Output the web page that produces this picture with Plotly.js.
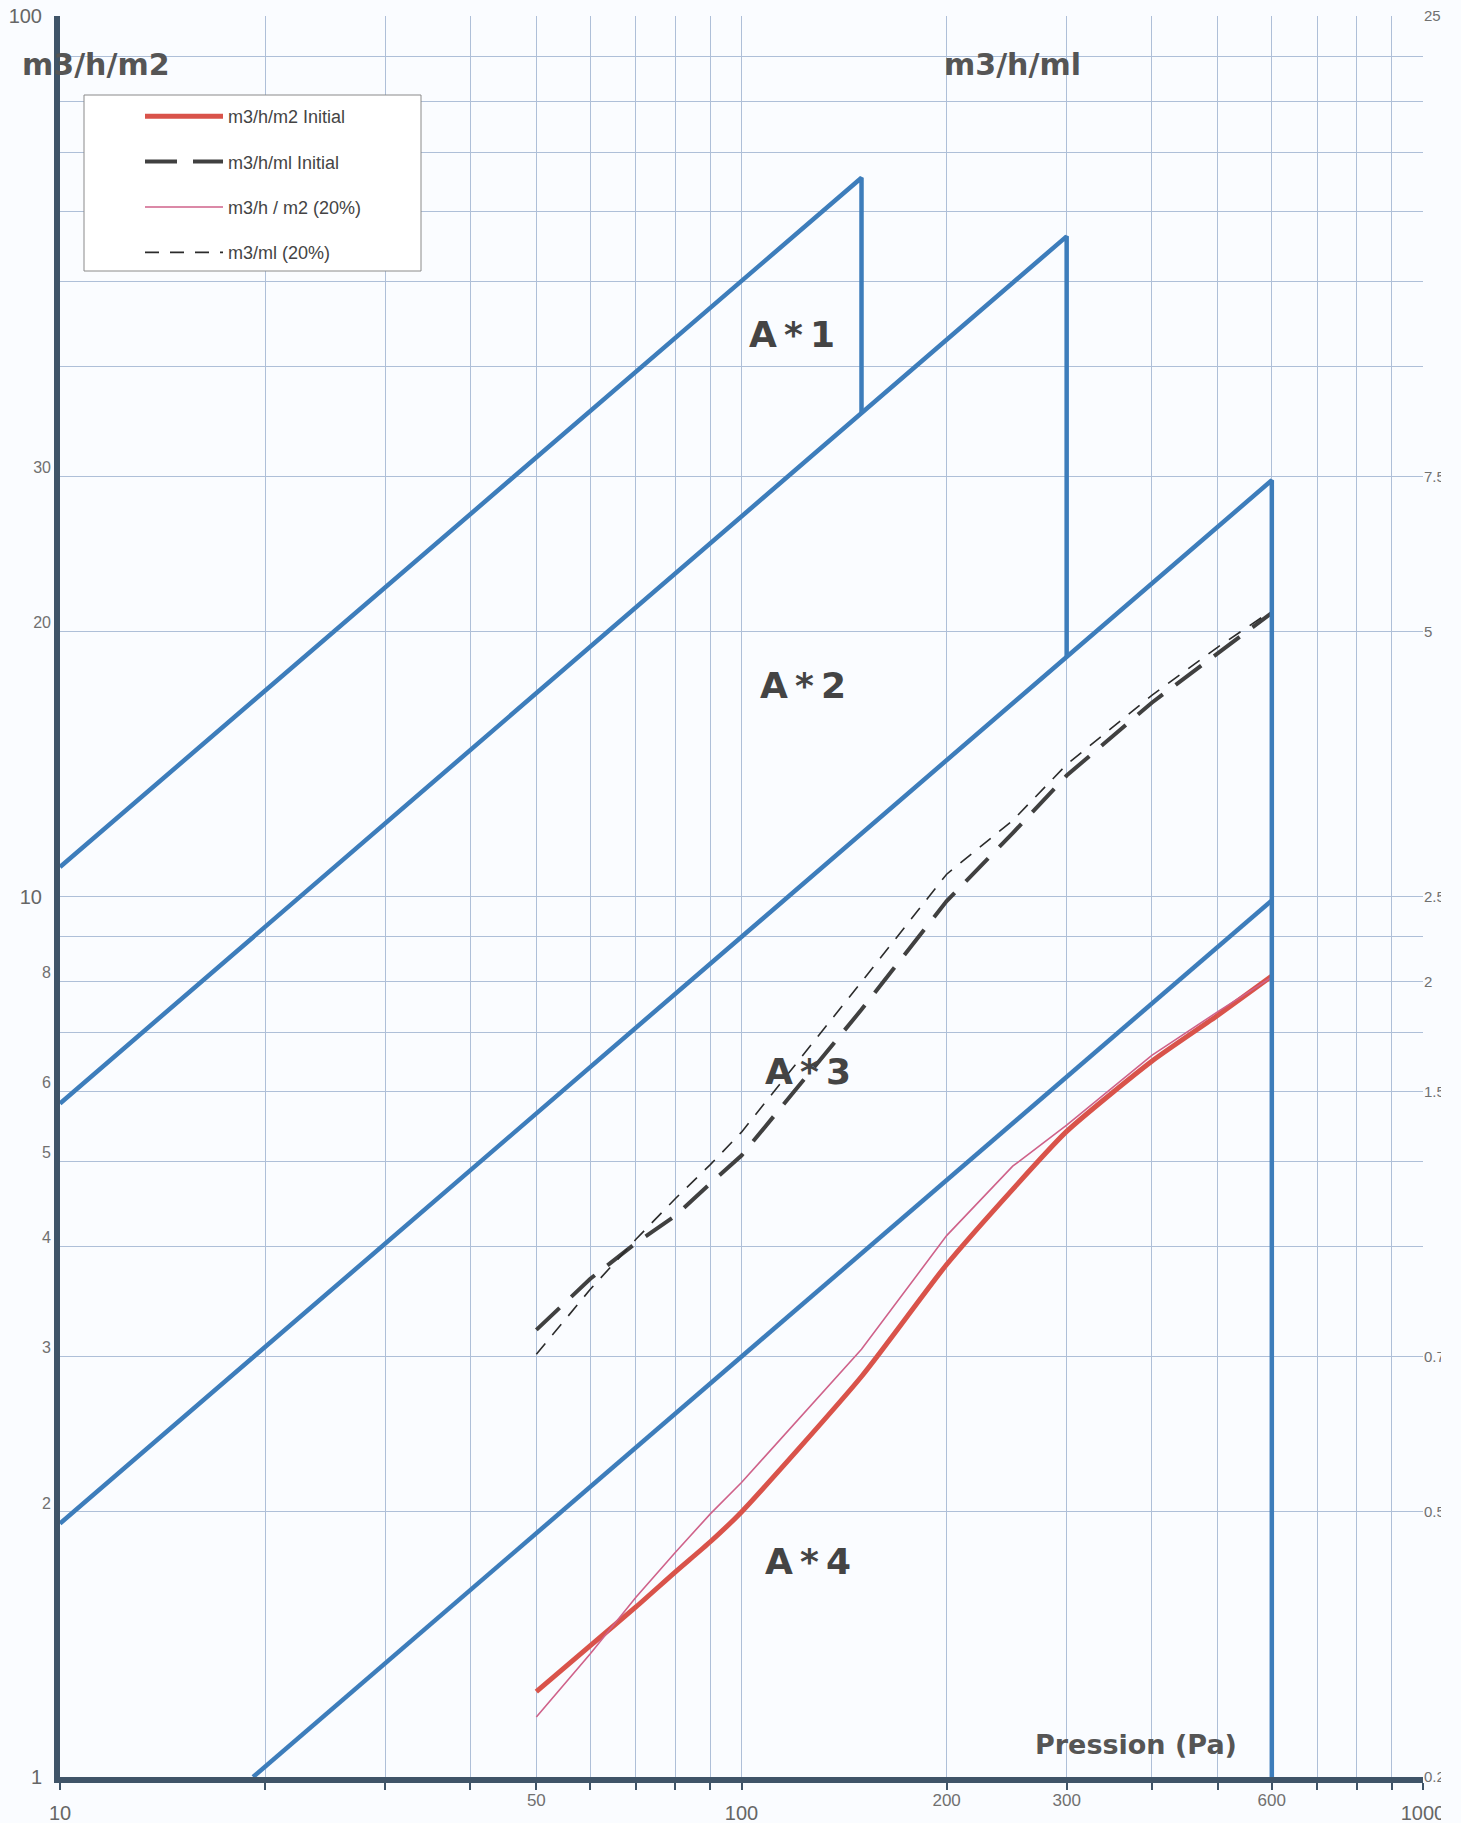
<!DOCTYPE html>
<html><head><meta charset="utf-8">
<script src="https://cdn.plot.ly/plotly-3.0.1.min.js"></script>
<style>html,body{margin:0;padding:0;background:#fafcff;} #chart{width:1461px;height:1823px;}</style>
</head><body><div id="chart"></div>
<script>
// ---- Data ----
// Pressure (Pa)
const pressure = [50, 60, 70, 80, 90, 100, 150, 200, 250, 300, 400, 500, 600];
// m3/h/m2 (left axis)
const m2Initial = [1.25, 1.41, 1.56, 1.71, 1.85, 2.00, 2.85, 3.82, 4.65, 5.41, 6.50, 7.33, 8.12];
const m2Pct20   = [1.17, 1.38, 1.60, 1.80, 1.99, 2.16, 3.06, 4.12, 4.94, 5.50, 6.60, 7.40, 8.10];
// m3/h/ml (right axis)
const mlInitial = [0.805, 0.92, 1.01, 1.085, 1.18, 1.27, 1.86, 2.47, 2.95, 3.43, 4.15, 4.73, 5.25];
const mlPct20   = [0.755, 0.895, 1.02, 1.135, 1.24, 1.35, 2.00, 2.65, 3.05, 3.53, 4.23, 4.80, 5.28];

// Class limit polylines (Pa, m3/h/m2)
const classA1P = [10, 150, 150];        const classA1Q = [10.8, 65.5, 35.4];
const classA2P = [10, 300, 300];        const classA2Q = [5.82, 56.2, 18.7];
const classA3P = [10, 600, 600, 600];   const classA3Q = [1.94, 29.7, 29.7, 1];
const classA4P = [19.2, 600];           const classA4Q = [1, 9.9];
const classLabels = ['A*1', 'A*2', 'A*3', 'A*4'];

// Ticks / gridlines
const xGridVals   = [10,20,30,40,50,60,70,80,90,100,200,300,400,500,600,700,800,900,1000];
const xBigLabels  = [10, 100, 1000];
const xSmallLabels = [50, 200, 300, 600];
const yGridVals   = [1,2,3,4,5,6,7,8,9,10,20,30,40,50,60,70,80,90,100];
const yBigLabels  = [1, 10, 100];
const ySmallLabels = [2, 3, 4, 5, 6, 8, 20, 30];
const y2TickVals  = [0.25, 0.5, 0.75, 1.5, 2, 2.5, 5, 7.5, 25];

// ---- Helpers for layout placement ----
const W = 1461, H = 1823, ML = 60, MR = 38, MT = 16, MB = 46;
const PW = W - ML - MR, PH = H - MT - MB;
const px = v => (v - ML) / PW;
const py = v => (H - MB - v) / PH;

const xBigText = xGridVals.map(v => xBigLabels.includes(v) ? String(v) : '');
const yBigText = yGridVals.map(v => yBigLabels.includes(v) ? String(v) : '');

const blue = '#3d7dbb';
// class lines live on the overlaid label axes (x2 / y3), identical ranges to x / y
const classTrace = (x, y) => ({x, y, xaxis: 'x2', yaxis: 'y3', type: 'scatter', mode: 'lines', showlegend: false,
  hoverinfo: 'skip', line: {color: blue, width: 4.5}});

const traces = [
  classTrace(classA1P, classA1Q),
  classTrace(classA2P, classA2Q),
  classTrace(classA3P, classA3Q),
  classTrace(classA4P, classA4Q),
  {x: pressure, y: m2Initial, name: 'm3/h/m2 Initial', legendgroup: 'g1', type: 'scatter', mode: 'lines',
   line: {color: '#d9534a', width: 5, shape: 'spline', smoothing: 0.6}},
  {x: pressure, y: mlInitial, yaxis: 'y2', name: 'm3/h/ml Initial', legendgroup: 'g2', type: 'scatter', mode: 'lines',
   line: {color: '#404040', width: 4, dash: '32px,16px'}},
  {x: pressure, y: m2Pct20, name: 'm3/h / m2 (20%)', legendgroup: 'g3', type: 'scatter', mode: 'lines',
   line: {color: '#cf628a', width: 1.6}},
  {x: pressure, y: mlPct20, yaxis: 'y2', name: 'm3/ml (20%)', legendgroup: 'g4', type: 'scatter', mode: 'lines',
   line: {color: '#2b2b2b', width: 1.6, dash: '14px,11px'}}
];

const axisDark = '#3f5468';
const grid = '#aebfd8';
const labelFamily = 'Liberation Sans Narrow, Liberation Sans, Arial, sans-serif';

const annFont = (size, color) => ({family: 'DejaVu Sans, Verdana, sans-serif', size, color});
const classPos = [[792, 334], [803, 686], [808, 1071], [808, 1561]];
const ann = (text, x, y, font) => ({text, x: px(x), y: py(y), xref: 'paper', yref: 'paper',
  xanchor: 'center', yanchor: 'middle', showarrow: false, font});

const annotations = [
  ann('<b>m3/h/m2</b>', 96, 64, annFont(30, '#555')),
  ann('<b>m3/h/ml</b>', 1013, 64, annFont(30, '#555')),
  ann('<b>Pression (Pa)</b>', 1136, 1744, annFont(27, '#555'))
].concat(classLabels.map((t, i) => ann('<b>' + t.split('').join('\u2009') + '</b>',
  classPos[i][0], classPos[i][1], annFont(36, '#444'))));

const layout = {
  width: W, height: H,
  margin: {l: ML, r: MR, t: MT, b: MB},
  paper_bgcolor: '#fafcff', plot_bgcolor: '#fafcff',
  showlegend: true,
  xaxis: {type: 'log', range: [1, 3], tickmode: 'array', tickvals: xGridVals, ticktext: xBigText,
    showgrid: true, gridcolor: grid, gridwidth: 1, zeroline: false,
    showline: true, linecolor: axisDark, linewidth: 6,
    ticks: 'outside', ticklen: 7, tickwidth: 2, tickcolor: axisDark,
    tickfont: {family: labelFamily, size: 20, color: '#666'}, ticklabelstandoff: 6},
  xaxis2: {type: 'log', range: [1, 3], overlaying: 'x', anchor: 'y3', side: 'bottom',
    tickmode: 'array', tickvals: xSmallLabels, ticktext: xSmallLabels.map(String),
    showgrid: false, zeroline: false, showline: false, ticks: '',
    tickfont: {family: labelFamily, size: 17, color: '#707070'}, ticklabelstandoff: 11},
  yaxis: {type: 'log', range: [0, 2], tickmode: 'array', tickvals: yGridVals, ticktext: yBigText,
    showgrid: true, gridcolor: grid, gridwidth: 1, zeroline: false,
    showline: true, linecolor: axisDark, linewidth: 6, ticks: '',
    tickfont: {family: labelFamily, size: 20, color: '#666'}, ticklabelstandoff: 8},
  yaxis3: {type: 'log', range: [0, 2], overlaying: 'y', anchor: 'x2', side: 'left',
    tickmode: 'array', tickvals: ySmallLabels, ticktext: ySmallLabels.map(String),
    showgrid: false, zeroline: false, showline: false, ticks: '', ticklabelshift: -9, ticklabelstandoff: 8,
    tickfont: {family: labelFamily, size: 16, color: '#707070'}},
  yaxis2: {type: 'log', overlaying: 'y', side: 'right', range: [Math.log10(0.25), Math.log10(25)],
    tickmode: 'array', tickvals: y2TickVals, ticktext: y2TickVals.map(String),
    showgrid: false, zeroline: false, showline: false, ticks: '',
    tickfont: {family: 'Liberation Sans, Arial, sans-serif', size: 15, color: '#707070'}},
  legend: {x: px(140), y: py(98), xanchor: 'left', yanchor: 'top', bgcolor: 'rgba(0,0,0,0)', borderwidth: 0,
    itemwidth: 78, tracegroupgap: 19, traceorder: 'grouped',
    font: {family: 'Liberation Sans, Arial, sans-serif', size: 18, color: '#444'}},
  shapes: [
    {type: 'rect', xref: 'paper', yref: 'paper', x0: px(84), x1: px(421), y0: py(271), y1: py(95),
     line: {color: '#8a8a8a', width: 1}, fillcolor: '#ffffff', layer: 'above'},
    // scan edge: the right strip of the original is cut off
    {type: 'rect', xref: 'paper', yref: 'paper', x0: px(1441), x1: px(1470), y0: py(1830), y1: py(-10),
     line: {width: 0}, fillcolor: '#fafcff', layer: 'above'}
  ],
  annotations
};

Plotly.newPlot('chart', traces, layout, {staticPlot: true, displayModeBar: false});
</script></body></html>
